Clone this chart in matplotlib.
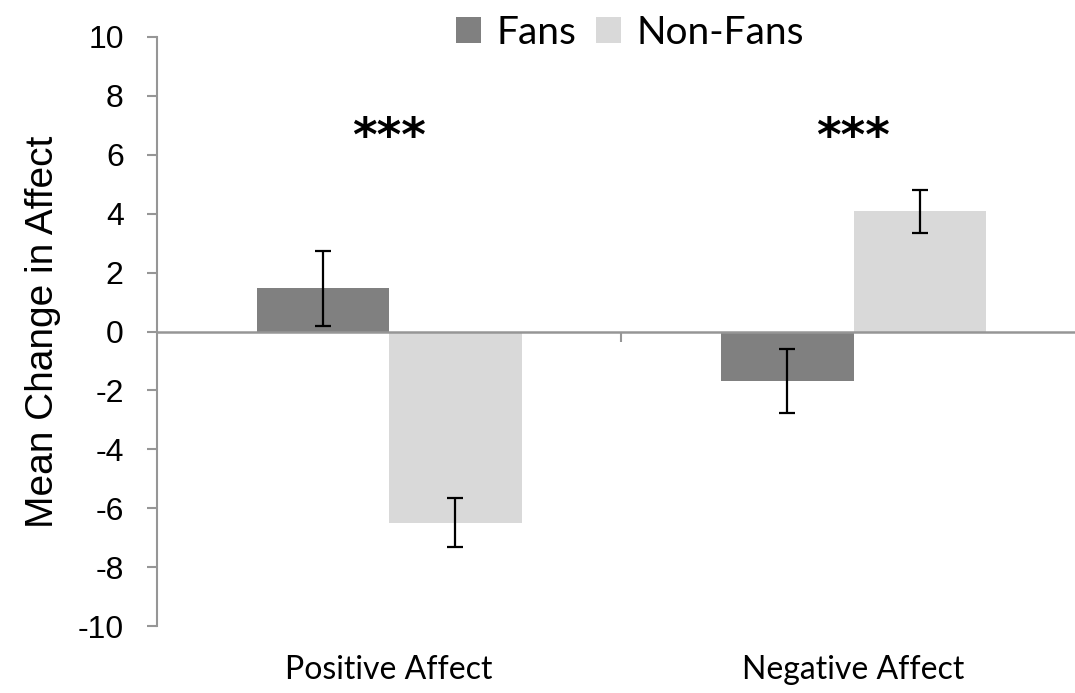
import numpy as np
import matplotlib
matplotlib.use('Agg')
import matplotlib.pyplot as plt
import matplotlib.transforms as mtransforms

# data
categories = ['Positive Affect', 'Negative Affect']
groups = ['Fans', 'Non-Fans']
fans_mean = [1.47, -1.69]
fans_err = [1.27, 1.08]
nonfans_mean = [-6.49, 4.08]
nonfans_err = [0.82, 0.72]
signif = ['***', '***']
yticks = [-10, -8, -6, -4, -2, 0, 2, 4, 6, 8, 10]

fans_color = '#808080'
nonfans_color = '#d9d9d9'
axis_color = '#969696'
label_font = 'Lato'
tick_font = 'Liberation Sans'

fig = plt.figure(figsize=(10.75, 6.93), dpi=100)
ax = fig.add_axes([157/1075, 1-626/693, 1-157/1075, (626-37)/693])

x = np.arange(len(categories))
w = 0.285
ax.bar(x - w/2, fans_mean, w, color=fans_color, label=groups[0], zorder=2)
ax.bar(x + w/2, nonfans_mean, w, color=nonfans_color, label=groups[1], zorder=2)
ax.errorbar(x - w/2, fans_mean, yerr=fans_err, fmt='none', ecolor='black',
            elinewidth=1.6, capsize=6, capthick=1.6, zorder=3)
ax.errorbar(x + w/2, nonfans_mean, yerr=nonfans_err, fmt='none', ecolor='black',
            elinewidth=1.6, capsize=6, capthick=1.6, zorder=3)

ax.set_xlim(-0.5, 1.477)
ax.set_ylim(-10, 10)
ax.set_yticks(yticks)
ax.set_yticklabels([str(t) for t in yticks], fontfamily=tick_font, fontsize=23)
ax.tick_params(axis='y', direction='out', length=7, width=1.5, color=axis_color, pad=17)

# x axis sits on zero, one tick between categories
for s in ['top', 'right']:
    ax.spines[s].set_visible(False)
ax.spines['left'].set_color(axis_color)
ax.spines['left'].set_linewidth(1.5)
ax.spines['bottom'].set_position(('data', 0))
ax.spines['bottom'].set_color(axis_color)
ax.spines['bottom'].set_linewidth(1.8)
ax.spines['bottom'].set_zorder(4)
ax.set_xticks(x)
ax.set_xticklabels([])
ax.tick_params(axis='x', which='major', length=0)
ax.set_xticks([0.5], minor=True)
ax.tick_params(axis='x', which='minor', direction='out', length=7, width=1.5, color=axis_color)

trans = mtransforms.blended_transform_factory(ax.transData, ax.transAxes)
for xi, c in zip(x, categories):
    ax.text(xi, -0.075, c, transform=trans, ha='center', va='center',
            fontfamily=label_font, fontsize=23)

for xi, s in zip(x, signif):
    ax.text(xi, 6.55, s, ha='center', va='center', fontfamily='DejaVu Sans',
            fontweight='bold', fontsize=34)

ax.set_ylabel('Mean Change in Affect', fontfamily=tick_font, fontsize=28, labelpad=12)

leg = ax.legend(loc='center', bbox_to_anchor=(630/1075, 1-33/693), bbox_transform=fig.transFigure,
                ncol=2, frameon=False, prop={'family': label_font, 'size': 28},
                handlelength=0.65, handleheight=0.65, handletextpad=0.4, columnspacing=0.5,
                borderpad=0, borderaxespad=0)

fig.savefig('out.png', dpi=100)
